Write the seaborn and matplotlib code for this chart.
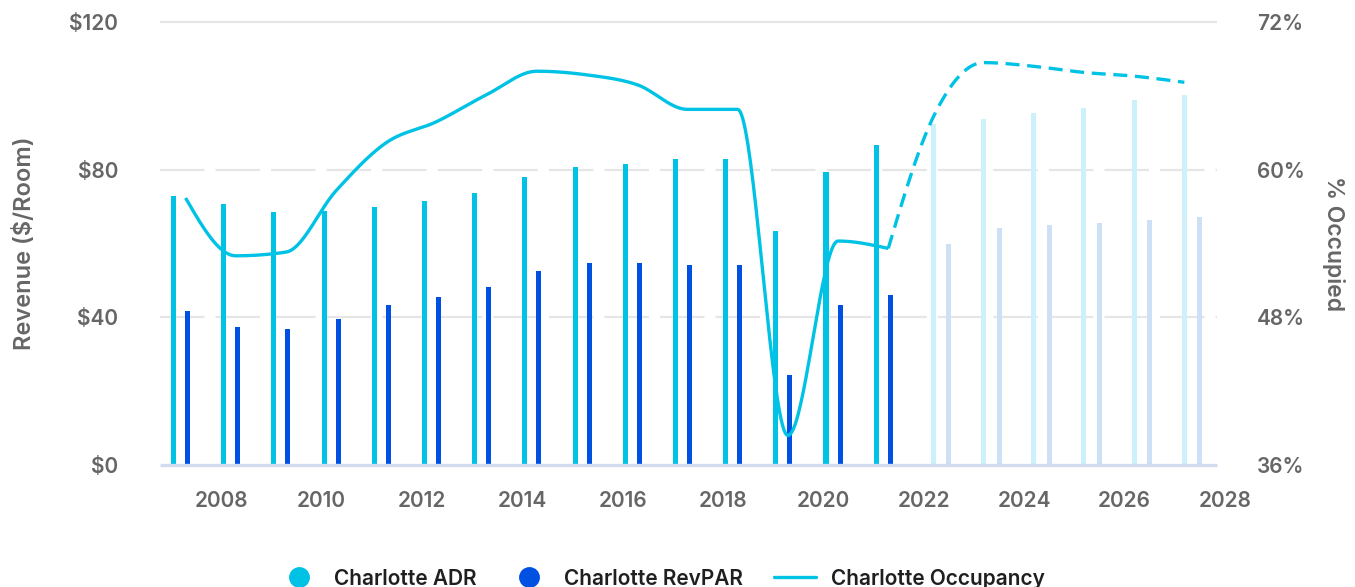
import numpy as np
import matplotlib
matplotlib.use("Agg")
import matplotlib.pyplot as plt
from matplotlib.lines import Line2D
import seaborn as sns

# ---- data -------------------------------------------------------------
years = list(range(2007, 2028))
first_forecast_year = 2022

adr = [72.9, 70.7, 68.5, 68.8, 69.9, 71.5, 73.7, 78.0, 80.7, 81.5, 82.9,
       82.9, 63.4, 79.4, 86.7, 92.4, 93.7, 95.3, 96.7, 98.9, 100.2]
revpar = [41.7, 37.4, 36.8, 39.5, 43.3, 45.5, 48.2, 52.5, 54.7, 54.7, 54.2,
          54.2, 24.4, 43.3, 46.0, 59.9, 64.2, 65.0, 65.5, 66.4, 67.2]
occupancy = [57.7, 53.0, 53.3, 58.3, 62.2, 63.9, 66.1, 68.0, 67.7, 66.9, 64.9,
             64.9, 38.4, 54.2, 53.6, 64.3, 68.7, 68.4, 67.9, 67.6, 67.1]

left_ticks = [0, 40, 80, 120]
left_labels = ["$0", "$40", "$80", "$120"]
right_ticks = [36, 48, 60, 72]
right_labels = ["36%", "48%", "60%", "72%"]
x_ticks = list(range(2008, 2029, 2))

series_names = ["Charlotte ADR", "Charlotte RevPAR", "Charlotte Occupancy"]

# ---- style ------------------------------------------------------------
ADR_C, ADR_F = "#00c2e5", "#ccf1fa"
REV_C, REV_F = "#0050e2", "#cde0f6"
OCC_C = "#00c2e5"
TICK_C = "#666666"
GRID_C = "#e6e6e6"
BASE_C = "#d3dcee"
WEIGHT = "semibold"

sns.set_theme(style="white")
plt.rcParams["font.family"] = ["Inter", "DejaVu Sans"]

# horizontal offsets within each year slot (actual vs. forecast years)
ADR_OFF, REV_OFF, OCC_OFF = 0.05, 0.33, 0.29
ADR_OFF_FC, REV_OFF_FC, OCC_OFF_FC = 0.19, 0.50, 0.19
BAR_W = 0.1
X0, X1 = 2006.78, 2028.0
X_GRID_END = 2027.84


def monotone_curve(xs, ys, steps=40):
    """Monotone cubic (Fritsch-Carlson / monotoneX) path through the points."""
    xs = np.asarray(xs, float)
    ys = np.asarray(ys, float)
    h = np.diff(xs)
    s = np.diff(ys) / h
    n = len(xs)
    m = np.zeros(n)
    for i in range(1, n - 1):
        s0, s1, h0, h1 = s[i - 1], s[i], h[i - 1], h[i]
        p = (s0 * h1 + s1 * h0) / (h0 + h1)
        sg = (1 if s0 >= 0 else -1) + (1 if s1 >= 0 else -1)
        m[i] = sg * min(abs(s0), abs(s1), 0.5 * abs(p))
    if n > 2:
        m[0] = (3 * s[0] - m[1]) / 2
        m[-1] = (3 * s[-1] - m[-2]) / 2
    else:
        m[:] = s[0]
    px, py = [], []
    t = np.linspace(0, 1, steps)
    for i in range(n - 1):
        hh = h[i]
        h00 = 2 * t**3 - 3 * t**2 + 1
        h10 = t**3 - 2 * t**2 + t
        h01 = -2 * t**3 + 3 * t**2
        h11 = t**3 - t**2
        px.append(xs[i] + t * hh)
        py.append(h00 * ys[i] + h10 * hh * m[i] + h01 * ys[i + 1] + h11 * hh * m[i + 1])
    return np.concatenate(px), np.concatenate(py)


fig = plt.figure(figsize=(13.55, 5.87), dpi=100)
ax = fig.add_axes([160 / 1355, 1 - 465 / 587, (1225 - 160) / 1355, (465 - 22) / 587])

# horizontal guides
for v in left_ticks[1:]:
    ls = "-" if v == 120 else (0, (20, 5))
    ax.hlines(v, X0, X_GRID_END, colors=GRID_C, lw=1.6, linestyles=ls, zorder=0, clip_on=False)
ax.hlines(0, X0, X_GRID_END, colors=BASE_C, lw=2.4, zorder=3, clip_on=False)

# bars
yrs = np.array(years)
is_fc = yrs >= first_forecast_year
adr_x = yrs + np.where(is_fc, ADR_OFF_FC, ADR_OFF)
rev_x = yrs + np.where(is_fc, REV_OFF_FC, REV_OFF)
ax.bar(adr_x, adr, width=BAR_W,
       color=[ADR_F if f else ADR_C for f in is_fc], zorder=2, linewidth=0)
ax.bar(rev_x, revpar, width=BAR_W,
       color=[REV_F if f else REV_C for f in is_fc], zorder=2, linewidth=0)

ax.set_xlim(X0, X1)
ax.set_ylim(0, 120)
ax.set_yticks(left_ticks)
ax.set_yticklabels(left_labels)
ax.set_xticks(x_ticks)
ax.set_xticklabels([str(x) for x in x_ticks])
ax.tick_params(axis="both", length=0, labelsize=15, colors=TICK_C)
ax.tick_params(axis="y", pad=30)
ax.tick_params(axis="x", pad=19)
for lab in ax.get_xticklabels() + ax.get_yticklabels():
    lab.set_fontweight(WEIGHT)
ax.set_ylabel("Revenue ($/Room)", fontsize=17, color=TICK_C, labelpad=24, fontweight=WEIGHT)
for sp in ax.spines.values():
    sp.set_visible(False)

# occupancy on the secondary axis
ax2 = ax.twinx()
ax2.set_ylim(36, 72)
ax2.set_yticks(right_ticks)
ax2.set_yticklabels(right_labels)
ax2.tick_params(axis="y", length=0, labelsize=15, colors=TICK_C, pad=23)
for lab in ax2.get_yticklabels():
    lab.set_fontweight(WEIGHT)
ax2.set_ylabel("% Occupied", fontsize=16.5, color=TICK_C, rotation=270, labelpad=29, fontweight=WEIGHT)
for sp in ax2.spines.values():
    sp.set_visible(False)
ax2.grid(False)
ax.grid(False)

occ_x = yrs + np.where(is_fc, OCC_OFF_FC, OCC_OFF)
occ = np.array(occupancy)
split = int(np.sum(~is_fc))
hx, hy = monotone_curve(occ_x[:split], occ[:split])
fx, fy = monotone_curve(occ_x[split - 1:], occ[split - 1:])
sns.lineplot(x=hx, y=hy, ax=ax2, color=OCC_C, lw=2.4, sort=False, estimator=None,
             solid_capstyle="butt")
sns.lineplot(x=fx, y=fy, ax=ax2, color=OCC_C, lw=2.4, sort=False, estimator=None,
             linestyle=(0, (4.2, 2.3)), dash_capstyle="butt")
ax2.set_xlim(X0, X1)

# legend
handles = [
    Line2D([], [], marker="o", ls="none", markersize=14, markerfacecolor=ADR_C, markeredgecolor=ADR_C),
    Line2D([], [], marker="o", ls="none", markersize=14, markerfacecolor=REV_C, markeredgecolor=REV_C),
    Line2D([], [], color=OCC_C, lw=2.4),
]
leg = fig.legend(handles, series_names, loc="center", bbox_to_anchor=(0.488, 0.014),
                 ncol=3, frameon=False, fontsize=15, handlelength=2.0,
                 handletextpad=0.7, columnspacing=1.5)
for t in leg.get_texts():
    t.set_color("#1f1f1f")
    t.set_fontweight(WEIGHT)

fig.savefig("out.png", dpi=100)
